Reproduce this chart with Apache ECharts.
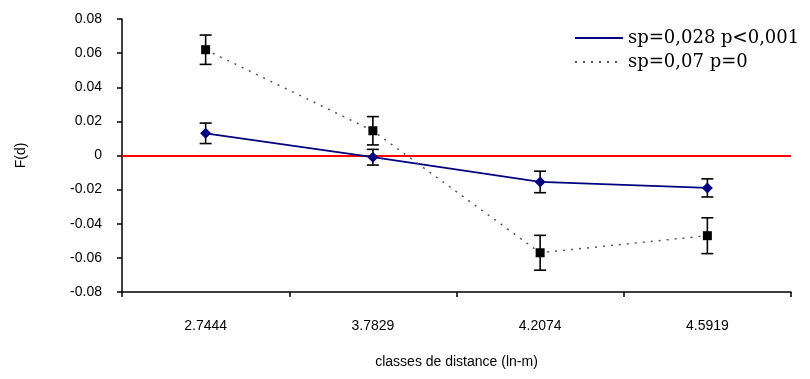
<!DOCTYPE html>
<html>
<head>
<meta charset="utf-8">
<script src="https://cdn.jsdelivr.net/npm/echarts@6/dist/echarts.min.js"></script>
<style>
  html, body { margin: 0; padding: 0; background: #fff; }
  #main { width: 810px; height: 379px; }
</style>
</head>
<body>
<div id="main"></div>
<script>
// categories (classes de distance)
var categories = ['2.7444', '3.7829', '4.2074', '4.5919'];
// series 1 : sp=0,028 p<0,001
var blueVals = [0.013, -0.001, -0.0155, -0.019];
var blueErrs = [0.006, 0.0046, 0.0063, 0.0053];
// series 2 : sp=0,07 p=0
var blackVals = [0.062, 0.0145, -0.057, -0.047];
var blackErrs = [0.0086, 0.0083, 0.0102, 0.0105];
var yTicks = [-0.08, -0.06, -0.04, -0.02, 0, 0.02, 0.04, 0.06, 0.08];

function errData(vals, errs){
    var out = [];
    for (var i = 0; i < vals.length; i++) {
        out.push([i, vals[i] - errs[i], vals[i] + errs[i]]);
    }
    return out;
}

function renderErr(params, api){
    var lo = api.coord([api.value(0), api.value(1)]);
    var hi = api.coord([api.value(0), api.value(2)]);
    var w = 6;
    var st = { stroke: '#000', lineWidth: 1.6 };
    return {
        type: 'group',
        children: [
            { type: 'line', shape: { x1: lo[0], y1: lo[1], x2: hi[0], y2: hi[1] }, style: st },
            { type: 'line', shape: { x1: lo[0] - w, y1: lo[1], x2: lo[0] + w, y2: lo[1] }, style: st },
            { type: 'line', shape: { x1: hi[0] - w, y1: hi[1], x2: hi[0] + w, y2: hi[1] }, style: st }
        ]
    };
}

var myChart = echarts.init(document.getElementById('main'));
var axisFont = { fontFamily: 'Liberation Sans, Arial', fontSize: 14, color: '#000' };

var option = {
    animation: false,
    grid: { left: 122, right: 19, top: 19, bottom: 87 },
    legend: {
        orient: 'vertical',
        left: 569,
        top: 23,
        itemWidth: 48,
        itemHeight: 14,
        itemGap: 4,
        itemStyle: { opacity: 0 },
        textStyle: { fontFamily: 'DejaVu Serif', fontSize: 18, lineHeight: 20, color: '#000' },
        data: ['sp=0,028 p<0,001', 'sp=0,07 p=0']
    },
    xAxis: {
        type: 'category',
        data: categories,
        boundaryGap: true,
        name: 'classes de distance (ln-m)',
        nameLocation: 'middle',
        nameGap: 63,
        nameTextStyle: axisFont,
        axisLine: { onZero: false, lineStyle: { color: '#000', width: 1.5 } },
        axisTick: { show: true, interval: 0, length: 5, lineStyle: { color: '#000', width: 1.5 } },
        axisLabel: { margin: 27, fontFamily: axisFont.fontFamily, fontSize: 14, color: '#000' },
        splitLine: { show: false }
    },
    yAxis: {
        type: 'value',
        min: yTicks[0],
        max: yTicks[yTicks.length - 1],
        interval: 0.02,
        name: 'F(d)',
        nameLocation: 'middle',
        nameGap: 94,
        nameTextStyle: axisFont,
        axisLine: { show: true, lineStyle: { color: '#000', width: 1.5 } },
        axisTick: { show: true, length: 5, lineStyle: { color: '#000', width: 1.5 } },
        axisLabel: {
            margin: 20, fontFamily: axisFont.fontFamily, fontSize: 14, color: '#000',
            formatter: function(v){ return Math.abs(v) < 1e-9 ? '0' : v.toFixed(2); }
        },
        splitLine: { show: false }
    },
    series: [
        {
            name: 'err1',
            type: 'custom',
            renderItem: renderErr,
            data: errData(blueVals, blueErrs),
            z: 3
        },
        {
            name: 'err2',
            type: 'custom',
            renderItem: renderErr,
            data: errData(blackVals, blackErrs),
            z: 3
        },
        {
            name: 'sp=0,028 p<0,001',
            type: 'line',
            data: blueVals,
            symbol: 'diamond',
            symbolSize: 11,
            itemStyle: { color: '#000080' },
            lineStyle: { color: '#000080', width: 1.8 },
            z: 5,
            markLine: {
                silent: true,
                symbol: 'none',
                label: { show: false },
                lineStyle: { color: '#ff0000', width: 2, type: 'solid' },
                data: [{ yAxis: 0 }],
                z: 2
            }
        },
        {
            name: 'sp=0,07 p=0',
            type: 'line',
            data: blackVals,
            symbol: 'rect',
            symbolSize: 9,
            itemStyle: { color: '#000' },
            lineStyle: { color: '#555', width: 1.5, type: [2, 6] },
            z: 5
        }
    ]
};

myChart.setOption(option);
</script>
</body>
</html>
